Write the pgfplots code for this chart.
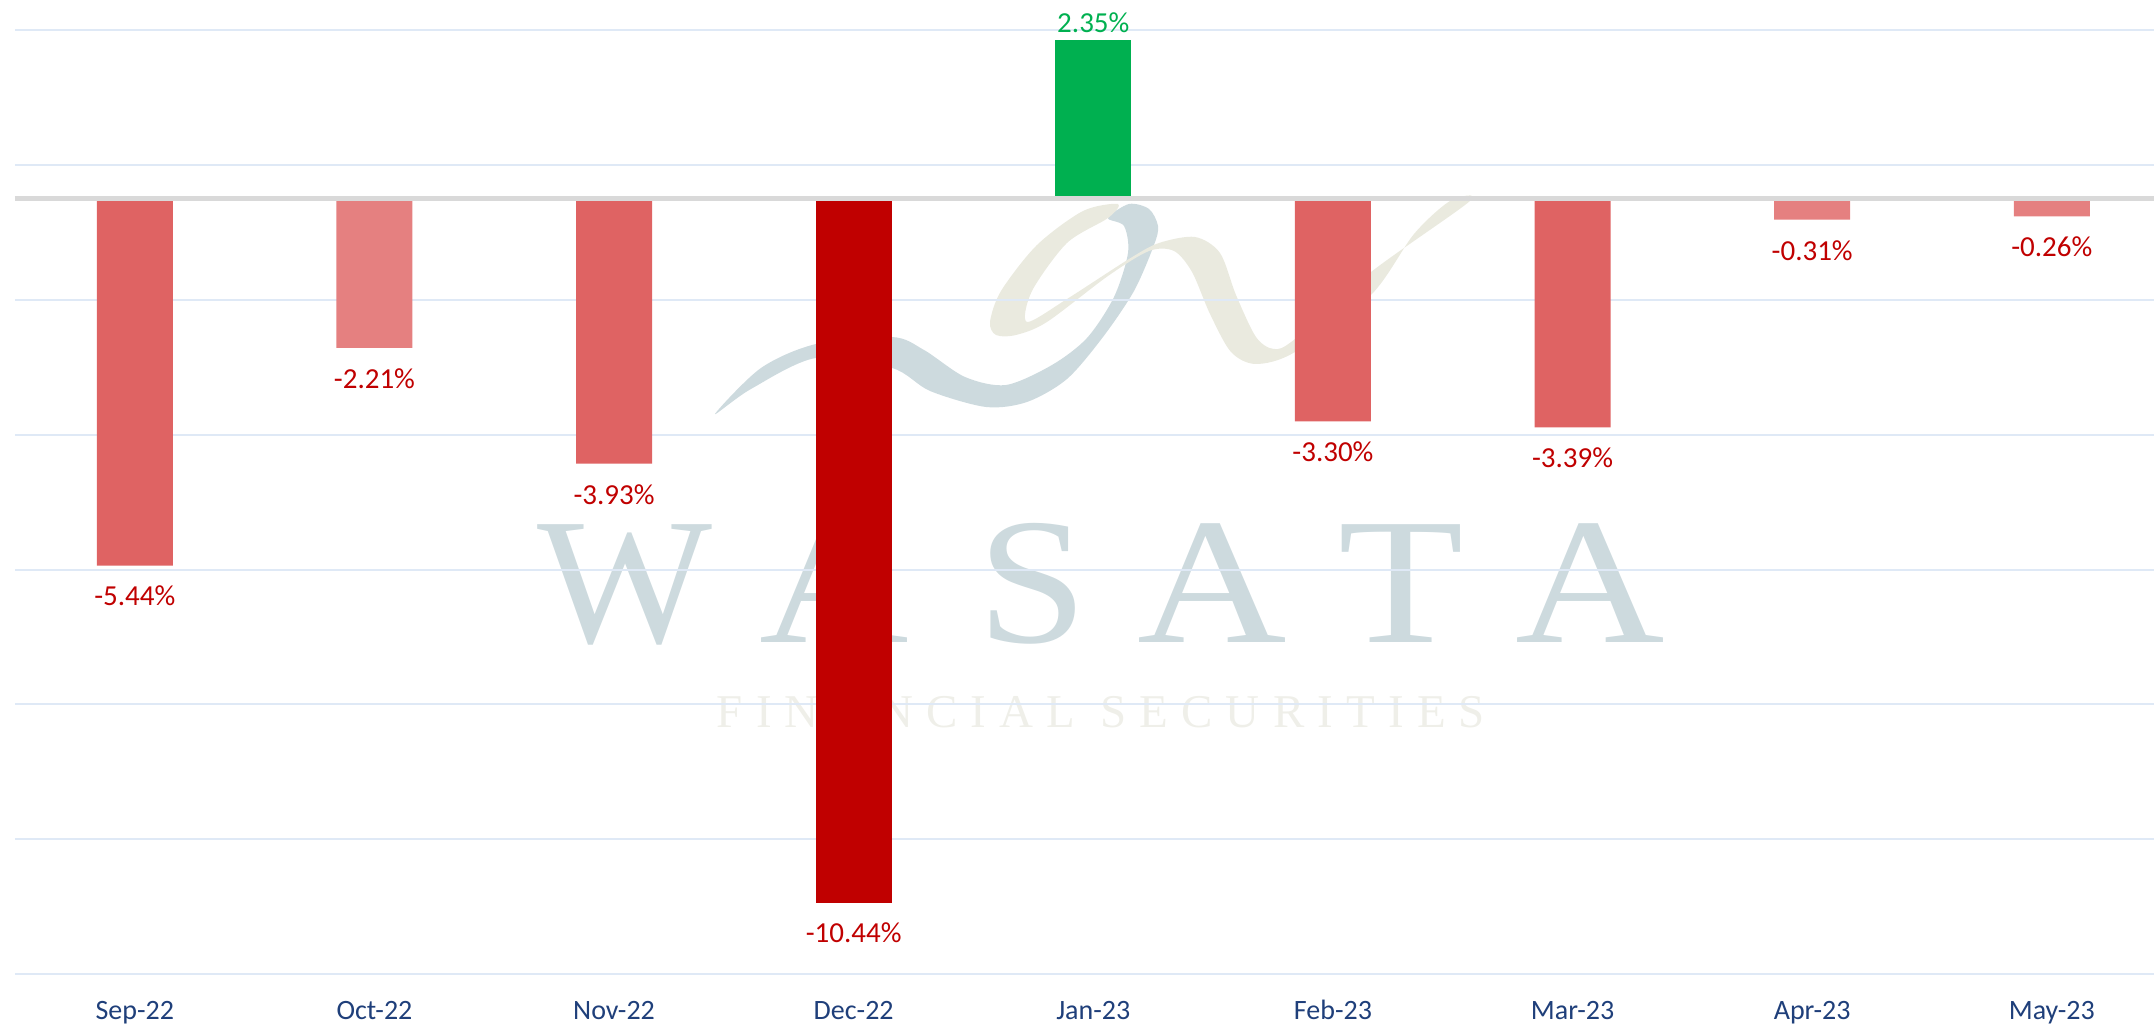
\documentclass[border=0pt]{standalone}
\usepackage{fontspec}
\setmainfont{Carlito}
\newfontfamily\wmfont{Liberation Serif}
\newfontfamily\wmspaced[LetterSpace=28]{Liberation Serif}
\usepackage{pgfplots}
\pgfplotsset{compat=1.18}
\definecolor{barmid}{HTML}{DF6363}
\definecolor{barlight}{HTML}{E58080}
\definecolor{bardark}{HTML}{C00000}
\definecolor{bargreen}{HTML}{00B050}
\definecolor{gridblue}{HTML}{DFE9F6}
\definecolor{zeroline}{HTML}{D9D9D9}
\definecolor{ticktext}{HTML}{1F3F7A}
\definecolor{wmblue}{HTML}{CDDADE}
\definecolor{wmbeige}{HTML}{EAEADF}
\definecolor{wmpale}{HTML}{EFEFE9}
\pgfplotsset{
  negbar/.style={ybar, bar width=38pt, bar shift=0pt, draw=none, fill=#1,
    point meta=explicit symbolic, nodes near coords,
    every node near coord/.append style={anchor=base, yshift=-20.2pt, text=bardark,
      font=\fontsize{14.5}{14.5}\selectfont, inner sep=0pt}},
}
\begin{document}
\begin{tikzpicture}
\useasboundingbox (0,0) rectangle (1077pt,513pt);
% watermark behind the chart
\begin{scope}[x=0.5pt,y=-0.5pt,yshift=513pt]
  \fill[wmblue] plot[smooth cycle, tension=0.5] coordinates {
    (715,414) (751,389) (816,358) (892,368) (930,391) (986,407) (1027,402)
    (1067,379) (1103,337) (1134,291) (1154,245) (1158,226) (1149,209) (1129,204)
    (1108,218) (1124,226) (1128,253) (1114,297) (1087,338) (1052,365) (1006,385)
    (965,377) (924,350) (892,337) (816,344) (761,368)};
  \fill[wmbeige] plot[smooth cycle, tension=0.5] coordinates {
    (1118,204) (1083,211) (1037,245) (1001,291) (990,322) (996,335) (1016,335)
    (1047,322) (1108,276) (1149,251) (1174,251) (1192,272) (1210,314) (1231,352)
    (1256,364) (1295,352) (1371,295) (1414,234) (1450,201) (1470,201) (1371,272)
    (1295,339) (1274,349) (1256,337) (1236,295) (1220,253) (1195,237) (1159,243)
    (1129,259) (1067,299) (1027,322) (1032,291) (1067,243) (1108,218)};
  \foreach \x/\l/\s in {625/W/1.03,834/A/1.15,1033/S/1.10,1212/A/1.15,1401/T/1.14,1590/A/1.15}
    \node[text=wmblue, inner sep=0pt, anchor=base] at (\x,643)
      {\scalebox{\s}[1]{\fontsize{90}{90}\selectfont\wmfont \l}};
  \node[text=wmpale, inner sep=0pt, anchor=base] at (1101,728)
    {\fontsize{23.5}{23.5}\selectfont\wmspaced FINANCIAL SECURITIES};
\end{scope}
\begin{axis}[
  at={(7.5pt,26pt)}, anchor=south west,
  scale only axis, width=1069.5pt, height=487pt,
  xmin=-0.5, xmax=8.427, ymin=-11.5, ymax=2.95,
  axis line style={draw=none},
  major tick length=0pt,
  ytick={-11.5,-9.5,-7.5,-5.5,-3.5,-1.5,0.5,2.5},
  yticklabels={},
  ymajorgrids,
  grid style={color=gridblue, line width=1pt},
  xtick={0,1,2,3,4,5,6,7,8},
  xticklabels={Sep-22,Oct-22,Nov-22,Dec-22,Jan-23,Feb-23,Mar-23,Apr-23,May-23},
  xticklabel style={anchor=base, yshift=-22.6pt, text=ticktext,
    font=\fontsize{14}{14}\selectfont, inner sep=0pt},
  clip=false,
]
\addplot[negbar=barmid] coordinates {(0,-5.44)[-5.44\%] (2,-3.93)[-3.93\%] (5,-3.30)[-3.30\%] (6,-3.39)[-3.39\%]};
\addplot[negbar=barlight] coordinates {(1,-2.21)[-2.21\%] (7,-0.31)[-0.31\%] (8,-0.26)[-0.26\%]};
\addplot[negbar=bardark] coordinates {(3,-10.44)[-10.44\%]};
\addplot[negbar=bargreen, every node near coord/.append style={yshift=24pt, text=bargreen}] coordinates {(4,2.35)[2.35\%]};
\addplot[sharp plot, draw=zeroline, line width=2.5pt, no marks, forget plot] coordinates {(-0.5,0) (8.427,0)};
\end{axis}
\end{tikzpicture}
\end{document}
